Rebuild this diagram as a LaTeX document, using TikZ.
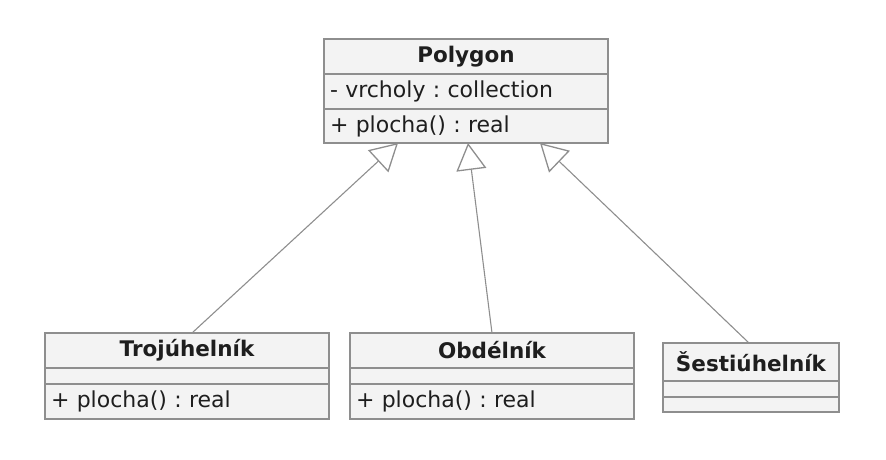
\documentclass[tikz,border=0pt]{standalone}
\usepackage{fontspec}
\setmainfont{DejaVu Sans}
\usetikzlibrary{arrows.meta, calc, positioning}
\frenchspacing

\definecolor{umlline}{HTML}{8E8E8E}
\definecolor{umlfill}{HTML}{F3F3F3}
\definecolor{umltext}{HTML}{1E1E1E}

\begin{document}
\begin{tikzpicture}[x=1pt, y=-1pt, font=\fontsize{22}{26}\selectfont,
    classhead/.style={draw=umlline, fill=umlfill, line width=1.3pt, text=umltext, outer sep=0pt,
      minimum width=#1, minimum height=35pt, inner sep=0pt, font=\fontsize{21.5}{25}\selectfont\bfseries},
    classpart/.style={draw=umlline, fill=umlfill, line width=1.3pt, text=umltext, outer sep=0pt,
      text width=#1, inner xsep=6pt, inner ysep=0pt, minimum height=35pt, align=left},
    emptypart/.style={draw=umlline, fill=umlfill, line width=1.3pt, outer sep=0pt,
      minimum width=#1, minimum height=16pt, inner sep=0pt},
    inherit/.style={draw=umlline, line width=1.1pt,
      -{Triangle[open, length=27pt, width=30pt, line width=1.3pt]}}]
  \useasboundingbox (0,0) rectangle (886,460);

  % Superclass
  \node[classhead=284pt, anchor=north west] (polyhead) at (324,39) {Polygon};
  \node[classpart=272pt, below=0pt of polyhead] (polyattr) {- vrcholy : collection};
  \node[classpart=272pt, minimum height=34pt, below=0pt of polyattr] (polymeth) {+ plocha() : real};

  % Subclasses
  \node[classhead=284pt, anchor=north west] (trojhead) at (45,333) {Trojúhelník};
  \node[emptypart=284pt, below=0pt of trojhead] (trojattr) {};
  \node[classpart=272pt, below=0pt of trojattr] (trojmeth) {+ plocha() : real};

  \node[classhead=284pt, anchor=north west] (obdhead) at (350,333) {Obdélník};
  \node[emptypart=284pt, below=0pt of obdhead] (obdattr) {};
  \node[classpart=272pt, below=0pt of obdattr] (obdmeth) {+ plocha() : real};

  \node[classhead=176pt, minimum height=38pt, anchor=north west] (sesthead) at (663,343) {Šestiúhelník};
  \node[emptypart=176pt, below=0pt of sesthead] (sestattr) {};
  \node[emptypart=176pt, minimum height=15pt, below=0pt of sestattr] (sestmeth) {};

  % Generalisations
  \draw[inherit] ($(trojhead.north)+(5,0)$) -- ($(polymeth.south)+(-68,0)$);
  \draw[inherit] (obdhead.north) -- ($(polymeth.south)+(2,0)$);
  \draw[inherit] ($(sesthead.north)+(-2,0)$) -- ($(polymeth.south)+(74,0)$);
\end{tikzpicture}
\end{document}
